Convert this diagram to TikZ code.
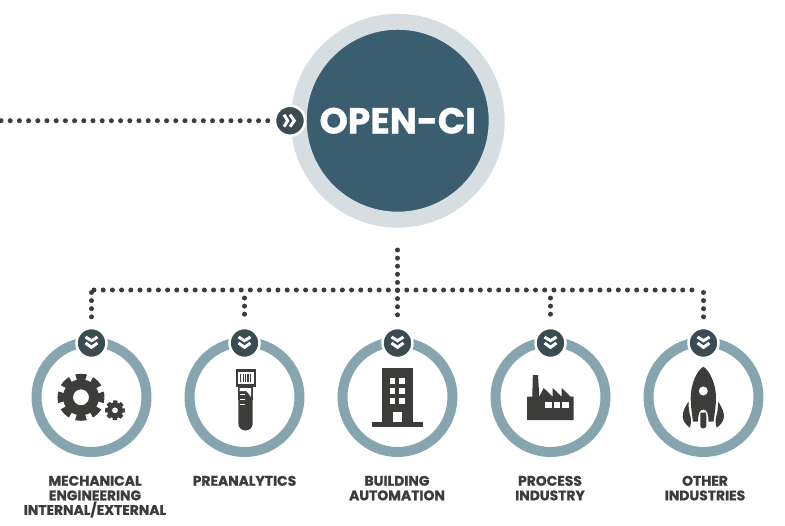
\documentclass[tikz,border=0pt]{standalone}
\usepackage{fontspec}
\setmainfont{Poppins}[BoldFeatures={FakeBold=1}]
\usetikzlibrary{positioning}
\definecolor{hubblue}{HTML}{3A5D70}
\definecolor{hubpale}{HTML}{D6DEE2}
\definecolor{ringblue}{HTML}{87A5AF}
\definecolor{bulletdark}{HTML}{3A4C52}
\definecolor{icondark}{HTML}{3C3C3B}
\tikzset{
  hub/.style={circle, draw=hubpale, fill=hubblue, line width=0.32cm, minimum size=3.96cm,
    text=white, font=\fontsize{20.5}{24}\selectfont\bfseries},
  ring/.style={circle, draw=ringblue, line width=0.2cm, minimum size=2.2cm},
  bullet/.style={circle, fill=bulletdark, draw=white, line width=0.05cm, minimum size=0.6cm},
  itemlabel/.style={text=icondark, align=center, inner sep=0pt,
    font=\fontsize{7.9}{8.3}\selectfont\bfseries},
  busdots/.style={draw=icondark, line width=0.1cm, line cap=round, dash pattern=on 0pt off 0.184cm},
  dropdots/.style={draw=icondark, line width=0.1cm, line cap=round, dash pattern=on 0pt off 0.162cm},
  chevron/.style={draw=white, line width=0.06cm},
  doublechev/.pic={
    \draw[chevron] (-6,-6) -- (0,-2.3) -- (6,-6);
    \draw[chevron] (-6,0) -- (0,4.3) -- (6,0);
  }
}

\begin{document}
\begin{tikzpicture}[x=0.02cm, y=-0.02cm]
  \useasboundingbox (0,0) rectangle (785,525);

  % top circle
  \node[hub] (main) at (397.7,120.7) {OPEN-CI};

  % the five rings
  \node[ring] (ring1) at (91.5,397) {};
  \node[ring] (ring2) at (244.5,397) {};
  \node[ring] (ring3) at (397.5,397) {};
  \node[ring] (ring4) at (550.5,397) {};
  \node[ring] (ring5) at (703.5,397) {};

  \node[bullet] (bul0) at (290,120.7) {};
  \node[bullet] (bul1) at (91.5,343) {};
  \node[bullet] (bul2) at (244.5,343) {};
  \node[bullet] (bul3) at (397.5,343) {};
  \node[bullet] (bul4) at (550.5,343) {};
  \node[bullet] (bul5) at (703.5,343) {};
  \pic[rotate=90] at (bul0) {doublechev};
  \pic at (bul1) {doublechev};
  \pic at (bul2) {doublechev};
  \pic at (bul3) {doublechev};
  \pic at (bul4) {doublechev};
  \pic at (bul5) {doublechev};

  % dotted connectors
  \coordinate (lead) at (1,120.7);
  \coordinate (drop) at (397.5,250);
  \coordinate (busl) at (94,290);
  \coordinate (busr) at (701,290);
  \coordinate (corl) at (91.5,292.5);
  \coordinate (corr) at (703.5,292.5);
  \coordinate (tap2) at (244.5,298);
  \coordinate (tap4) at (550.5,298);
  \draw[busdots, shorten >=0.06cm] (lead) -- (bul0);
  \draw[busdots] (busl) -- (busr);
  \draw[dropdots, shorten >=0.1cm] (drop) -- (bul3);
  \draw[dropdots, shorten >=0.1cm] (corl) -- (bul1);
  \draw[dropdots, shorten >=0.1cm] (corr) -- (bul5);
  \draw[dropdots, shorten >=0.1cm] (tap2) -- (bul2);
  \draw[dropdots, shorten >=0.1cm] (tap4) -- (bul4);

  % gears
  \fill[icondark, even odd rule] (81,397.3) circle (18) (81,397.3) circle (8);
  \draw[icondark, line width=0.12cm, dash pattern=on 0.2cm off 0.122cm, dash phase=0.1cm]
    (81,397.3) circle (20.5);
  \fill[icondark, even odd rule] (115,410.3) circle (8) (115,410.3) circle (3);
  \draw[icondark, line width=0.06cm, dash pattern=on 0.085cm off 0.0485cm, dash phase=0.0425cm]
    (115,410.3) circle (8.5);

  % tube
  \fill[icondark] (236,369.3) rectangle (255.7,386.7);
  \fill[icondark, rounded corners=0.14cm] (238.3,384) rectangle (252.7,430.5);
  \fill[icondark] (238.3,384) rectangle (252.7,400);
  \fill[white] (238,372) rectangle (253.5,384);
  \fill[icondark] (240,373.5) rectangle (241,382);
  \fill[icondark] (242.5,373.5) rectangle (243.8,382);
  \fill[icondark] (245,373.5) rectangle (246,382);
  \fill[icondark] (247.3,373.5) rectangle (248.5,382);
  \fill[icondark] (249.8,373.5) rectangle (251,382);
  \fill[white] (239.5,388) -- (251,388) -- (251,397) -- (246.5,391) -- (239.5,391) -- cycle;
  \fill[white] (239.5,393.5) rectangle (245,395);
  \fill[white] (239.5,398.5) rectangle (245,400);
  \fill[white] (239.5,403.5) rectangle (245,405);

  % building
  \fill[icondark] (382.3,367.7) rectangle (412.7,422);
  \fill[icondark] (371.7,421.7) rectangle (423.3,427.3);
  \fill[white] (389.7,378.3) rectangle (395.3,383.7);
  \fill[white] (399.3,378.3) rectangle (405.3,383.7);
  \fill[white] (389.7,388.3) rectangle (395.3,393.7);
  \fill[white] (399.3,388.3) rectangle (405.3,393.7);
  \fill[white] (389.7,398.3) rectangle (395.3,403.7);
  \fill[white] (399.3,398.3) rectangle (405.3,403.7);
  \fill[white] (393.3,412) rectangle (401.7,421.7);

  % factory
  \fill[icondark] (527,396.7) -- (532.3,396.7) -- (532.8,375) -- (538,375) -- (539.3,396.7)
    -- (543.7,388) -- (552.7,396.7) -- (552.7,388) -- (561.7,396.7) -- (561.7,388) -- (570.7,396.7)
    -- (573.7,396.7) -- (573.7,420) -- (527,420) -- cycle;
  \fill[white] (545,402.3) rectangle (551.7,408.3);
  \fill[white] (554,402.3) rectangle (560,408.3);
  \fill[white] (562.3,402.3) rectangle (568.7,408.3);

  % rocket
  \fill[icondark] (703.3,366.7) .. controls (709,370) and (716,383) .. (716,398)
    .. controls (716,406) and (714.5,414) .. (713.5,421.5) -- (708.5,421.5)
    .. controls (708.5,414) and (707,409.5) .. (703.3,409.5)
    .. controls (699.5,409.5) and (698,414) .. (698,421.5) -- (693,421.5)
    .. controls (692,414) and (690.7,406) .. (690.7,398)
    .. controls (690.7,383) and (697.5,370) .. (703.3,366.7) -- cycle;
  \fill[white] (703.3,391) circle (4.5);
  \fill[icondark, rounded corners=0.05cm] (700.3,428.3) -- (700.3,415)
    .. controls (700.5,412.5) and (706,412.5) .. (706.3,415) -- (706.3,428.3) -- cycle;
  \fill[icondark] (688.5,401.7) .. controls (684,408) and (682.5,413) .. (682.7,417)
    .. controls (683,421) and (686,425) .. (690,427.7)
    .. controls (691,424) and (691.5,421) .. (690.5,417)
    .. controls (689,412) and (688.5,407) .. (688.5,401.7) -- cycle;
  \fill[icondark] (718.1,401.7) .. controls (722.6,408) and (724.1,413) .. (723.9,417)
    .. controls (723.6,421) and (720.6,425) .. (716.6,427.7)
    .. controls (715.6,424) and (715.1,421) .. (716.1,417)
    .. controls (717.6,412) and (718.1,407) .. (718.1,401.7) -- cycle;

  % labels
  \node[itemlabel, anchor=north] (lab1) at (95,475.5) {MECHANICAL\\ENGINEERING\\INTERNAL/EXTERNAL};
  \node[itemlabel, anchor=north] (lab2) at (244.5,475.5) {PREANALYTICS};
  \node[itemlabel, anchor=north] (lab3) at (397,475.5) {BUILDING\\AUTOMATION};
  \node[itemlabel, anchor=north] (lab4) at (550,475.5) {PROCESS\\INDUSTRY};
  \node[itemlabel, anchor=north] (lab5) at (705,475.5) {OTHER\\INDUSTRIES};
\end{tikzpicture}
\end{document}
